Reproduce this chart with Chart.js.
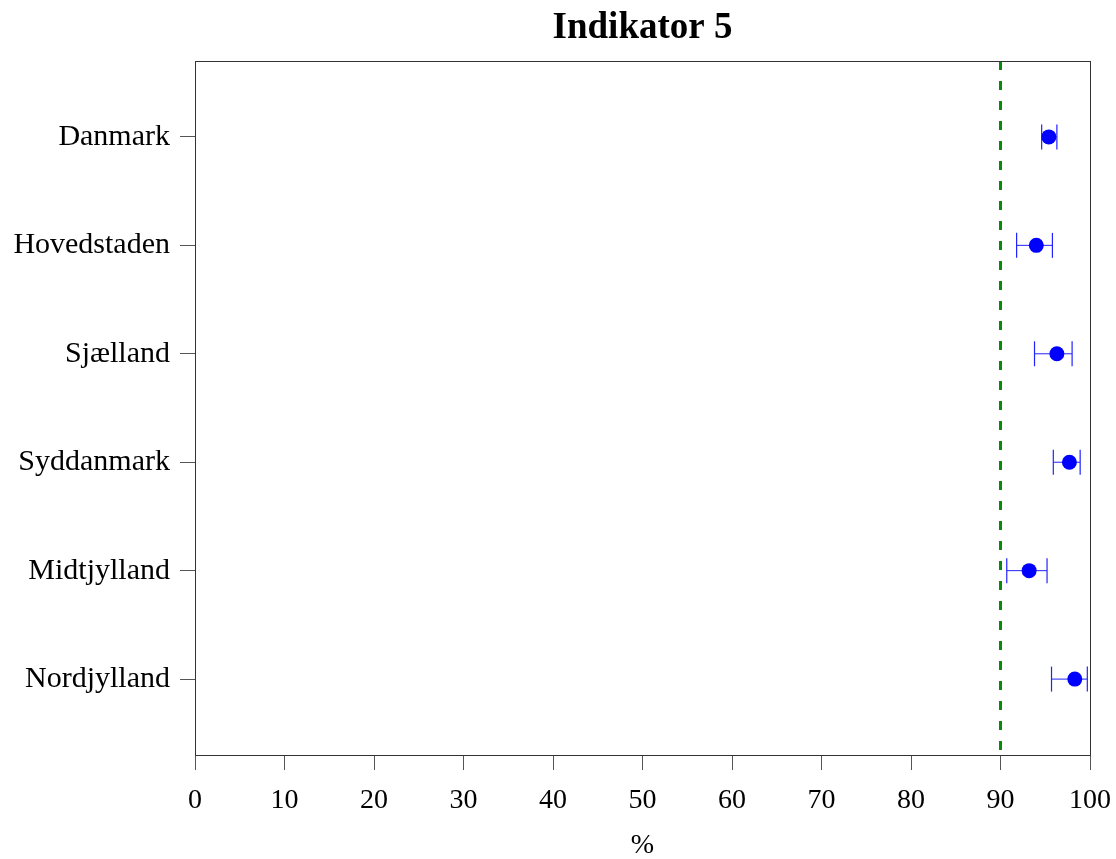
<!DOCTYPE html>
<html>
<head>
<meta charset="utf-8">
<script src="https://cdn.jsdelivr.net/npm/chart.js@4/dist/chart.umd.min.js"></script>
<style>
  html, body { margin: 0; padding: 0; background: #fff; }
  #wrap { width: 1116px; height: 859px; }
</style>
</head>
<body>
<div id="wrap"><canvas id="c" width="1116" height="859"></canvas></div>
<script>
const categories = ['Danmark', 'Hovedstaden', 'Sjælland', 'Syddanmark', 'Midtjylland', 'Nordjylland'];
const values = [95.4, 94.0, 96.3, 97.7, 93.2, 98.3];
const lower  = [94.6, 91.8, 93.8, 95.9, 90.7, 95.7];
const upper  = [96.3, 95.8, 98.0, 98.9, 95.2, 99.7];
const target = 90;
const xTicks = [0, 10, 20, 30, 40, 50, 60, 70, 80, 90, 100];
const titleText = 'Indikator 5';
const xTitle = '%';

const serif = "'Liberation Serif', 'Times New Roman', serif";
const yMin = 0.3, yMax = categories.length + 0.7;

const datasets = [];
// reference line
datasets.push({
  type: 'line',
  data: [{x: target, y: yMin}, {x: target, y: yMax}],
  borderColor: '#0a8a0a',
  borderWidth: 3,
  borderDash: [9, 11],
  pointRadius: 0,
  showLine: true,
  order: 3
});
// error bars
categories.forEach((c, i) => {
  datasets.push({
    type: 'scatter',
    data: [{x: lower[i], y: i + 1}, {x: upper[i], y: i + 1}],
    showLine: true,
    borderColor: '#2222ff',
    borderWidth: 1,
    pointStyle: 'line',
    rotation: 90,
    pointRadius: 12.5,
    pointBorderColor: '#2222ff',
    pointBorderWidth: 1.2,
    order: 2
  });
});
// points
datasets.push({
  type: 'scatter',
  data: values.map((v, i) => ({x: v, y: i + 1})),
  backgroundColor: '#0000ff',
  borderColor: '#0000ff',
  pointRadius: 7.5,
  borderWidth: 0,
  order: 1
});

const framePlugin = {
  id: 'frame',
  afterDraw(chart) {
    const {ctx, chartArea: a} = chart;
    ctx.save();
    ctx.strokeStyle = '#333';
    ctx.lineWidth = 1;
    ctx.strokeRect(Math.round(a.left) + 0.5, Math.round(a.top) + 0.5,
                   Math.round(a.right - a.left), Math.round(a.bottom - a.top));
    // title centred over the plot area
    ctx.fillStyle = '#000';
    ctx.font = "bold 37px " + serif;
    ctx.textAlign = 'center';
    ctx.textBaseline = 'middle';
    ctx.fillText(titleText, (a.left + a.right) / 2, 28);
    ctx.restore();
  }
};

new Chart(document.getElementById('c'), {
  type: 'scatter',
  data: { datasets },
  options: {
    responsive: false,
    animation: false,
    layout: { padding: { left: 0, right: 26, top: 61, bottom: 0 } },
    plugins: {
      legend: { display: false },
      tooltip: { enabled: false },
      title: { display: false }
    },
    scales: {
      x: {
        type: 'linear',
        min: 0, max: 100,
        afterBuildTicks: s => { s.ticks = xTicks.map(v => ({value: v})); },
        afterFit: s => { s.height = 104; s.paddingLeft = 0; s.paddingRight = 0; },
        grid: { drawOnChartArea: false, drawTicks: true, tickLength: 15, color: '#555', tickWidth: 1 },
        border: { display: true, color: '#444', width: 1 },
        ticks: { color: '#000', padding: 14, font: { family: serif, size: 28 }, maxRotation: 0 },
        title: { display: true, text: xTitle, color: '#000', font: { family: serif, size: 28 }, padding: { top: 0, bottom: -3 } }
      },
      y: {
        type: 'linear',
        min: yMin, max: yMax,
        reverse: true,
        afterBuildTicks: s => { s.ticks = categories.map((c, i) => ({value: i + 1})); },
        afterFit: s => { s.width = 195; s.paddingTop = 0; s.paddingBottom = 0; },
        grid: { drawOnChartArea: false, drawTicks: true, tickLength: 15, color: '#555', tickWidth: 1 },
        border: { display: true, color: '#444', width: 1 },
        ticks: {
          color: '#000', padding: 10,
          font: { family: serif, size: 30 },
          callback: v => categories[Math.round(v) - 1] || ''
        }
      }
    }
  },
  plugins: [framePlugin]
});
</script>
</body>
</html>
